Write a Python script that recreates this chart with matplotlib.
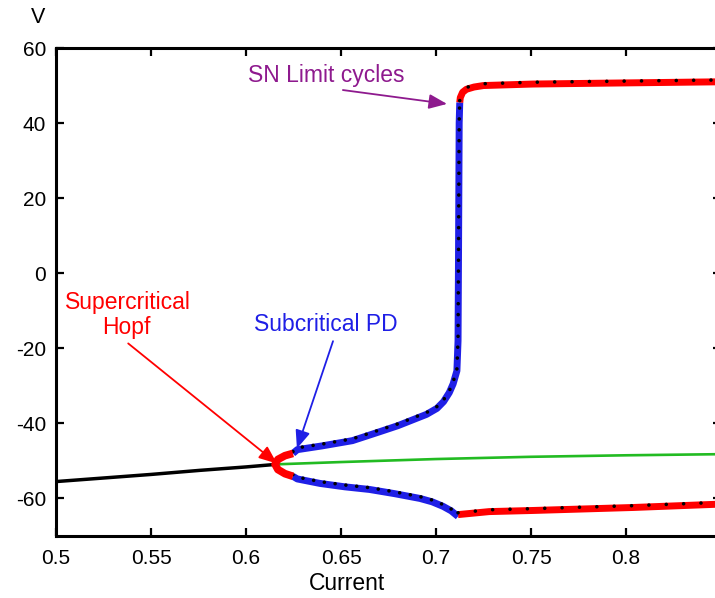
import numpy as np
import matplotlib
matplotlib.use("Agg")
import matplotlib.pyplot as plt
from matplotlib.transforms import offset_copy

plt.rcParams["font.family"] = ["Liberation Sans", "DejaVu Sans"]
plt.rcParams["axes.unicode_minus"] = False

# stable equilibrium (left of the Hopf point)
eq_I = [0.5, 0.55, 0.576, 0.6, 0.6163]
eq_V = [-55.5, -53.6, -52.5, -51.6, -50.9]

# unstable equilibrium (right of the Hopf point)
uneq_I = [0.6163, 0.65, 0.7, 0.75, 0.8, 0.85]
uneq_V = [-50.9, -50.3, -49.5, -48.9, -48.5, -48.2]

# stable cycles born at the Hopf point (max / min V)
hopf_I = [0.6247, 0.6205, 0.6168, 0.6153, 0.6168, 0.6205, 0.6247]
hopf_V = [-48.0, -48.6, -49.6, -50.9, -52.3, -53.4, -54.1]

# unstable cycles, upper branch (max V)
pd_up_I = [0.6247, 0.627, 0.64, 0.656, 0.6705, 0.68, 0.688, 0.695, 0.7005,
           0.704, 0.707, 0.709, 0.711, 0.7116, 0.7118, 0.712, 0.7122, 0.7125]
pd_up_V = [-48.0, -47.0, -46.0, -44.6, -42.2, -40.6, -39.0, -37.6, -36.0,
           -34.2, -31.8, -29.5, -26.0, -18.0, 0.0, 20.0, 40.0, 45.5]

# unstable cycles, lower branch (min V)
pd_lo_I = [0.6247, 0.627, 0.639, 0.652, 0.665, 0.678, 0.6916, 0.698, 0.7037,
           0.708, 0.7116]
pd_lo_V = [-54.1, -54.8, -56.0, -56.9, -57.6, -58.7, -60.0, -60.9, -62.1,
           -63.3, -64.8]

# stable large-amplitude cycles after the SN of limit cycles
sn_up_I = [0.7125, 0.7128, 0.714, 0.716, 0.72, 0.725, 0.751, 0.8, 0.85]
sn_up_V = [45.5, 46.8, 48.2, 49.0, 49.6, 50.0, 50.4, 50.7, 51.0]
sn_lo_I = [0.7116, 0.728, 0.751, 0.804, 0.85]
sn_lo_V = [-64.3, -63.5, -63.2, -62.4, -61.5]

xticks = [0.5, 0.55, 0.6, 0.65, 0.7, 0.75, 0.8]
xtick_labels = ["0.5", "0.55", "0.6", "0.65", "0.7", "0.75", "0.8"]
yticks = [-60, -40, -20, 0, 20, 40, 60]

RED = "#ff0000"
BLUE = "#1f1fe6"
GREEN = "#22bb22"
PURPLE = "#8e1a8e"
ARROW = "-|>,head_length=1.1,head_width=0.45"

fig = plt.figure(figsize=(7.15, 5.98), dpi=100)
ax = fig.add_axes([56 / 715, 62 / 598, 665 / 715, 488 / 598])

ax.plot(eq_I, eq_V, color="black", lw=2.5, zorder=3)
ax.plot(uneq_I, uneq_V, color=GREEN, lw=1.9, zorder=3)

dots = offset_copy(ax.transData, fig=fig, x=0, y=1.3, units="points")


def branch(I, V, color, gap):
    ax.plot(I, V, color=color, lw=5.0, solid_capstyle="butt",
            solid_joinstyle="round", zorder=4)
    ax.plot(I, V, color="black", lw=2.6, ls=(0, (0.01, gap)),
            dash_capstyle="round", transform=dots, zorder=5)


branch(pd_up_I, pd_up_V, BLUE, 3.0)
branch(pd_lo_I, pd_lo_V, BLUE, 3.0)
branch(sn_up_I, sn_up_V, RED, 4.8)
branch(sn_lo_I, sn_lo_V, RED, 4.8)
ax.plot(hopf_I, hopf_V, color=RED, lw=5.5, solid_capstyle="butt",
        solid_joinstyle="round", zorder=6)

# annotations
ax.annotate("", xy=(0.7058, 45.1), xytext=(0.651, 48.8),
            arrowprops=dict(arrowstyle=ARROW, color=PURPLE, lw=1.3,
                            shrinkA=0, shrinkB=0))
ax.text(0.642, 52.6, "SN Limit cycles", color=PURPLE, fontsize=16.5,
        ha="center", va="center")

ax.annotate("", xy=(0.6163, -50.7), xytext=(0.538, -18.7),
            arrowprops=dict(arrowstyle=ARROW, color=RED, lw=1.3,
                            shrinkA=0, shrinkB=0))
ax.text(0.538, -7.8, "Supercritical", color=RED, fontsize=16.5,
        ha="center", va="center")
ax.text(0.537, -14.4, "Hopf", color=RED, fontsize=16.5,
        ha="center", va="center")

ax.annotate("", xy=(0.6268, -46.7), xytext=(0.6458, -18.1),
            arrowprops=dict(arrowstyle=ARROW, color=BLUE, lw=1.3,
                            shrinkA=0, shrinkB=0))
ax.text(0.642, -13.6, "Subcritical PD", color=BLUE, fontsize=16.5,
        ha="center", va="center")

ax.set_xlim(0.5, 0.85)
ax.set_ylim(-70, 60)
ax.set_xticks(xticks)
ax.set_xticklabels(xtick_labels)
ax.set_yticks(yticks)
ax.tick_params(direction="in", length=6, width=1.6, labelsize=15,
               top=True, right=True, colors="black")
ax.tick_params(axis="x", pad=9)
ax.tick_params(axis="y", pad=7)
for s in ax.spines.values():
    s.set_linewidth(2.2)

ax.text(0.653, -82.6, "Current", fontsize=16.5, ha="center", va="center",
        clip_on=False)
ax.text(0.4905, 68.0, "V", fontsize=15.5, ha="center", va="center",
        clip_on=False)

fig.savefig("out.png", dpi=100)
